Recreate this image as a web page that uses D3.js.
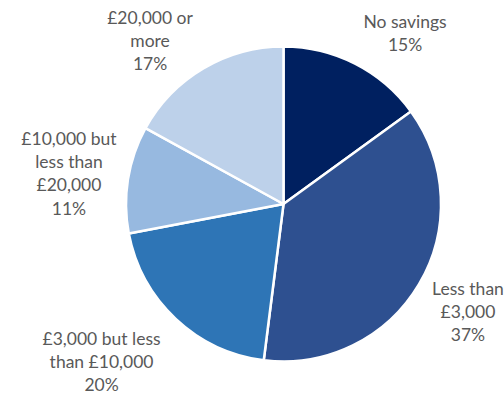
<!DOCTYPE html>
<html>
<head>
<meta charset="utf-8">
<script src="https://cdn.jsdelivr.net/npm/d3@7"></script>
<style>
  html, body { margin: 0; padding: 0; background: #fff; }
  svg { display: block; }
  .label { font-family: Lato, "Open Sans", sans-serif; font-size: 17.5px; fill: #595959; }
</style>
</head>
<body>
<svg id="chart" width="504" height="395"></svg>
<script>
// Savings bands and the share of people in each
const categories = [
  "No savings",
  "Less than £3,000",
  "£3,000 but less than £10,000",
  "£10,000 but less than £20,000",
  "£20,000 or more"
];
const shares = [15, 37, 20, 11, 17];
const labelLines = [
  ["No savings"],
  ["Less than", "£3,000"],
  ["£3,000 but less", "than £10,000"],
  ["£10,000 but", "less than", "£20,000"],
  ["£20,000 or", "more"]
];
const sliceColors = ["#002060", "#2E5090", "#2E75B6", "#97B9E0", "#BDD1EA"];

const width = 504, height = 395;
const cx = 283.5, cy = 204, radius = 157.5;
const lineHeight = 23.2;
const labelGap = 10;

// offset of each label's first baseline from the point just outside the rim at the slice's mid angle
const labelNudge = [[45.5, -26.8], [40.3, 5.7], [-67.3, 18.6], [-49.1, -32.8], [-48.2, -35.8]];

const svg = d3.select("#chart");
const g = svg.append("g").attr("transform", `translate(${cx},${cy})`);

const rows = categories.map((c, i) => ({ category: c, value: shares[i], lines: labelLines[i].concat([shares[i] + "%"]) }));

const pie = d3.pie().sort(null).value(d => d.value);
const arc = d3.arc().innerRadius(0).outerRadius(radius);
const rimArc = d3.arc().innerRadius(radius + labelGap).outerRadius(radius + labelGap);
const color = d3.scaleOrdinal().domain(categories).range(sliceColors);

const arcs = pie(rows);

g.selectAll("path.slice")
  .data(arcs)
  .join("path")
  .attr("class", "slice")
  .attr("d", arc)
  .attr("fill", d => color(d.data.category))
  .attr("stroke", "#fff")
  .attr("stroke-width", 2.5)
  .attr("stroke-linejoin", "round");

// Outside-end labels, one tspan per line, percentage last
g.selectAll("text.label")
  .data(arcs)
  .join("text")
  .attr("class", "label")
  .attr("text-anchor", "middle")
  .attr("transform", (d, i) => {
    const [px, py] = rimArc.centroid(d);
    return `translate(${px + labelNudge[i][0]},${py + labelNudge[i][1]})`;
  })
  .each(function (d) {
    const t = d3.select(this);
    d.data.lines.forEach((line, k) => {
      t.append("tspan").attr("x", 0).attr("dy", k === 0 ? 0 : lineHeight).text(line);
    });
  });
</script>
</body>
</html>
